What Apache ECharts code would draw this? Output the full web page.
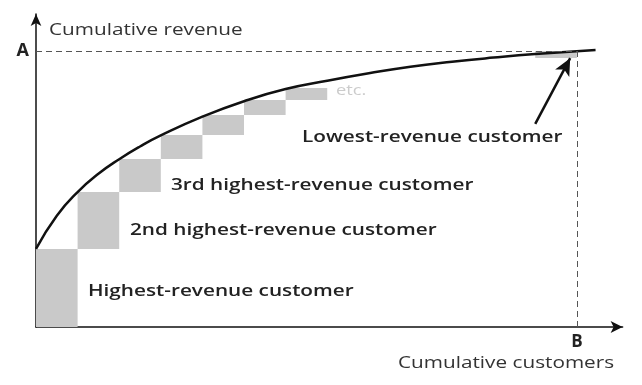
<!DOCTYPE html>
<html>
<head>
<meta charset="utf-8">
<script src="https://cdn.jsdelivr.net/npm/echarts@6/dist/echarts.min.js"></script>
<style>html,body{margin:0;padding:0;background:#fff}#c{width:642px;height:385px}</style>
</head>
<body>
<div id="c"></div>
<script>
// Step bars: each customer's revenue increment (x from barStart to barStart+1)
const barStart = [0, 1, 2, 3, 4, 5, 6, 12];
const barLow   = [0, 28.3, 48.9, 60.9, 69.6, 76.8, 82.2, 97.5];
const barHigh  = [28.3, 48.9, 60.9, 69.6, 76.8, 82.2, 86.6, 100];
// Cumulative revenue curve
const curveX = [0, 0.5, 1, 1.5, 2, 2.5, 3, 4, 5, 6, 7, 8, 9, 10, 11, 12, 13.45];
const curveY = [28.3, 40.3, 48.9, 55.5, 60.8, 65.4, 69.4, 76.2, 81.8, 86.2, 89.2, 91.9, 94.3, 96.1, 97.6, 98.9, 100.4];
// Reference values
const totalRevenue = 100;   // A
const totalCustomers = 13;  // B
const axisLabels = { A: 'A', B: 'B' };
const labels = {
  yTitle: 'Cumulative revenue',
  xTitle: 'Cumulative customers',
  c1: 'Highest-revenue customer',
  c2: '2nd highest-revenue customer',
  c3: '3rd highest-revenue customer',
  low: 'Lowest-revenue customer',
  etc: 'etc.'
};

const FONT = '"Open Sans", "Noto Sans", sans-serif';
const SX = 1.22;
const chart = echarts.init(document.getElementById('c'), null, { renderer: 'canvas' });

const barData = barStart.map((s, i) => [s, s + 1, barLow[i], barHigh[i]]);
const curveData = curveX.map((x, i) => [x, curveY[i]]);

function txt(text, left, top, font, fill) {
  return { type: 'text', x: left, y: top, scaleX: SX, style: { text, font, fill } };
}

chart.setOption({
  animation: false,
  grid: { left: 36, right: 19.4, top: 14, bottom: 58 },
  xAxis: {
    type: 'value', min: 0, max: 14.1,
    splitLine: { show: false },
    axisTick: { show: false },
    axisLine: { show: true, lineStyle: { color: '#111', width: 1.5 }, symbol: ['none', 'arrow'], symbolSize: [9, 12] },
    axisLabel: {
      show: true, customValues: [totalCustomers], formatter: () => axisLabels.B,
      color: '#222', fontFamily: FONT, fontWeight: 'bold', fontSize: 17, margin: 7
    }
  },
  yAxis: {
    type: 'value', min: 0, max: 113.4,
    splitLine: { show: false },
    axisTick: { show: false },
    axisLine: { show: true, lineStyle: { color: '#111', width: 1.5 }, symbol: ['none', 'arrow'], symbolSize: [8, 12] },
    axisLabel: {
      show: true, customValues: [totalRevenue], formatter: () => axisLabels.A,
      color: '#222', fontFamily: FONT, fontWeight: 'bold', fontSize: 18, margin: 7
    }
  },
  series: [
    {
      type: 'custom',
      data: barData,
      z: 2,
      renderItem: (params, api) => {
        const p0 = api.coord([api.value(0), api.value(3)]);
        const p1 = api.coord([api.value(1), api.value(2)]);
        return {
          type: 'rect',
          shape: { x: p0[0], y: p0[1], width: p1[0] - p0[0], height: p1[1] - p0[1] },
          style: { fill: '#c9c9c9' }
        };
      }
    },
    {
      type: 'line',
      data: curveData,
      smooth: 0.5,
      showSymbol: false,
      z: 4,
      lineStyle: { color: '#111', width: 2.5 },
      markLine: {
        silent: true,
        symbol: ['none', 'none'],
        label: { show: false },
        lineStyle: { color: '#555', width: 1, type: [6, 4] },
        data: [
          [{ coord: [0, totalRevenue] }, { coord: [totalCustomers, totalRevenue] }],
          [{ coord: [totalCustomers, 0] }, { coord: [totalCustomers, totalRevenue] }],
          [{ coord: [12.0, 73.6], symbol: 'none', lineStyle: { color: '#111', width: 2.5, type: 'solid' } },
           { coord: [12.84, 97.4], symbol: 'arrow', symbolSize: [12, 17], lineStyle: { color: '#111', width: 2.5, type: 'solid' } }]
        ]
      }
    }
  ],
  graphic: [
    txt(labels.yTitle, 49, 22, '17px ' + FONT, '#333'),
    txt(labels.xTitle, 398, 355, '17px ' + FONT, '#333'),
    txt(labels.c1, 88, 283, '600 17px ' + FONT, '#222'),
    txt(labels.c2, 130, 222, '600 17px ' + FONT, '#222'),
    txt(labels.c3, 171, 177, '600 17px ' + FONT, '#222'),
    txt(labels.low, 302, 129, '600 17px ' + FONT, '#222'),
    txt(labels.etc, 336, 83, '15px ' + FONT, '#cccccc')
  ]
});
</script>
</body>
</html>
